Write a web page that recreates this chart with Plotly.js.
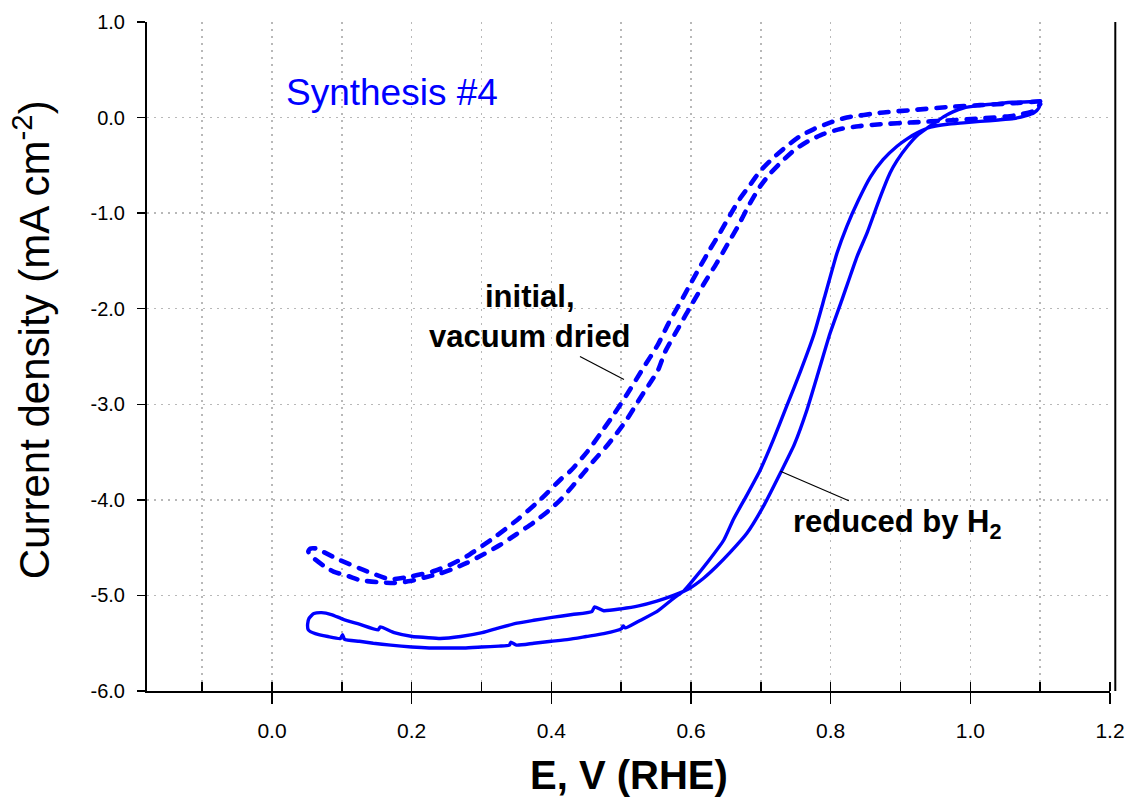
<!DOCTYPE html>
<html>
<head>
<meta charset="utf-8">
<script src="https://cdn.plot.ly/plotly-3.0.1.min.js"></script>
<style>
html,body{margin:0;padding:0;background:#fff;}
#chart{width:1128px;height:809px;}
#chart .scatterlayer path.js-line{stroke-linecap:round;stroke-linejoin:round;}
</style>
</head>
<body>
<div id="chart"></div>
<script>
// ---- Data (E vs RHE in V, current density in mA cm-2) ----
// "reduced by H2" (solid) – one closed CV loop
const reducedE = [1.100,1.085,1.060,1.038,1.010,0.990,0.975,0.962,0.950,0.938,0.925,0.910,0.895,0.885,0.870,0.852,0.838,0.826,0.816,0.799,0.783,0.766,0.748,0.728,0.705,0.680,0.656,0.636,0.618,0.597,0.575,0.551,0.525,0.500,0.475,0.462,0.458,0.430,0.401,0.375,0.351,0.325,0.301,0.270,0.241,0.220,0.201,0.175,0.155,0.152,0.125,0.102,0.085,0.071,0.060,0.053,0.051,0.052,
  0.062,0.080,0.098,0.101,0.104,0.125,0.145,0.170,0.200,0.225,0.250,0.275,0.300,0.325,0.340,0.342,0.350,0.375,0.400,0.425,0.450,0.475,0.500,0.503,0.506,0.525,0.551,0.575,0.590,0.603,0.625,0.647,0.661,0.680,0.699,0.718,0.737,0.757,0.776,0.792,0.809,0.823,0.840,0.857,0.875,0.895,0.910,0.924,0.943,0.967,0.990,1.014,1.040,1.062,1.080,1.091,1.098,1.100];
const reducedJ = [0.17,0.165,0.16,0.145,0.125,0.10,0.06,0.01,-0.05,-0.11,-0.18,-0.30,-0.45,-0.58,-0.85,-1.21,-1.45,-1.70,-1.91,-2.26,-2.65,-3.06,-3.42,-3.72,-4.05,-4.35,-4.55,-4.70,-4.82,-4.93,-5.00,-5.06,-5.11,-5.14,-5.16,-5.12,-5.17,-5.20,-5.23,-5.26,-5.29,-5.34,-5.39,-5.43,-5.45,-5.44,-5.43,-5.39,-5.33,-5.36,-5.30,-5.25,-5.20,-5.18,-5.19,-5.24,-5.30,-5.36,
  -5.40,-5.43,-5.45,-5.41,-5.46,-5.48,-5.50,-5.52,-5.54,-5.55,-5.55,-5.55,-5.54,-5.53,-5.52,-5.49,-5.52,-5.50,-5.48,-5.46,-5.43,-5.40,-5.35,-5.32,-5.34,-5.27,-5.17,-5.03,-4.95,-4.84,-4.64,-4.42,-4.20,-3.95,-3.69,-3.37,-3.02,-2.65,-2.27,-1.86,-1.42,-1.14,-0.86,-0.62,-0.44,-0.30,-0.22,-0.16,-0.10,-0.07,-0.055,-0.04,-0.025,-0.01,0.02,0.05,0.10,0.17];

// "initial, vacuum dried" (dashed) – one closed CV loop
const initialE = [1.100,1.062,1.014,0.967,0.919,0.871,0.823,0.800,0.776,0.755,0.737,0.718,0.699,0.685,0.670,0.656,0.642,0.627,0.613,0.600,0.585,0.568,0.553,0.530,0.508,0.490,0.470,0.451,0.427,0.417,0.384,0.351,0.317,0.279,0.255,0.230,0.200,0.169,0.130,0.097,0.075,0.064,0.055,0.052,
  0.055,0.074,0.088,0.110,0.126,0.150,0.175,0.198,0.220,0.241,0.260,0.279,0.303,0.327,0.350,0.374,0.395,0.413,0.430,0.446,0.462,0.479,0.494,0.508,0.520,0.532,0.543,0.553,0.563,0.582,0.603,0.620,0.637,0.652,0.667,0.682,0.699,0.714,0.730,0.748,0.767,0.790,0.814,0.840,0.871,0.919,0.967,1.014,1.062,1.091,1.100];
const initialJ = [0.17,0.15,0.13,0.11,0.08,0.05,0.00,-0.05,-0.12,-0.20,-0.30,-0.42,-0.56,-0.70,-0.85,-1.02,-1.20,-1.38,-1.56,-1.73,-1.93,-2.15,-2.37,-2.64,-2.90,-3.10,-3.31,-3.50,-3.70,-3.76,-4.00,-4.21,-4.40,-4.59,-4.68,-4.75,-4.80,-4.83,-4.73,-4.63,-4.55,-4.51,-4.51,-4.54,
  -4.58,-4.69,-4.75,-4.80,-4.84,-4.86,-4.87,-4.85,-4.81,-4.77,-4.72,-4.66,-4.57,-4.47,-4.36,-4.24,-4.12,-4.00,-3.86,-3.72,-3.58,-3.44,-3.30,-3.16,-3.02,-2.88,-2.76,-2.64,-2.45,-2.20,-1.93,-1.72,-1.52,-1.33,-1.14,-0.93,-0.72,-0.58,-0.46,-0.34,-0.25,-0.17,-0.12,-0.09,-0.07,-0.05,-0.03,-0.01,0.02,0.07,0.14];

// tick labels
const xTickVals = [0.0,0.2,0.4,0.6,0.8,1.0,1.2];
const xTickText = ["0.0","0.2","0.4","0.6","0.8","1.0","1.2"];
const yTickVals = [1,0,-1,-2,-3,-4,-5,-6];
const yTickText = ["1.0","0.0","-1.0","-2.0","-3.0","-4.0","-5.0","-6.0"];

const FONT = "Liberation Sans, Arial, Helvetica, sans-serif";
const BLUE = "#0000ff";
const GRID = "#b8b8b8";

const traces = [
  {x: initialE, y: initialJ, type: "scatter", mode: "lines", name: "initial, vacuum dried",
   line: {color: BLUE, width: 4.6, dash: "9px,10px", shape: "spline", smoothing: 0.6}, hoverinfo: "x+y"},
  {x: reducedE, y: reducedJ, type: "scatter", mode: "lines", name: "reduced by H2",
   line: {color: BLUE, width: 3.4, shape: "spline", smoothing: 0.5}, hoverinfo: "x+y"}
];

const layout = {
  width: 1128, height: 809,
  margin: {l: 147, r: 18, t: 22, b: 118},
  paper_bgcolor: "#fff", plot_bgcolor: "#fff",
  showlegend: false,
  font: {family: FONT, color: "#000"},
  xaxis: {
    range: [-0.179, 1.2], tickmode: "array", tickvals: xTickVals, ticktext: xTickText,
    ticks: "outside", ticklen: 11, tickwidth: 1.5, tickcolor: "#000", ticklabelstandoff: 9,
    showline: true, linecolor: "#000", linewidth: 2, zeroline: false,
    showgrid: true, gridcolor: GRID, griddash: "2px,5px", gridwidth: 1.5,
    tickfont: {family: FONT, size: 21, color: "#000"},
    minor: {dtick: 0.1, tick0: 0, ticks: "inside", ticklen: 9, tickwidth: 1.5, tickcolor: "#000",
            showgrid: true, gridcolor: GRID, griddash: "2px,5px", gridwidth: 1.5}
  },
  yaxis: {
    range: [-6, 1], tickmode: "array", tickvals: yTickVals, ticktext: yTickText,
    ticks: "outside", ticklen: 8, tickwidth: 1.5, tickcolor: "#000", ticklabelstandoff: 8,
    showline: true, linecolor: "#000", linewidth: 2, zeroline: false,
    showgrid: true, gridcolor: GRID, griddash: "2px,5px", gridwidth: 1.5,
    tickfont: {family: FONT, size: 20, color: "#000"}
  },
  shapes: [
    {type: "line", xref: "paper", yref: "paper", x0: 1.0055, x1: 1.0055, y0: 0, y1: 1,
     line: {color: "#000", width: 2}},
    {type: "line", xref: "x", yref: "y", x0: 0.441, y0: -2.50, x1: 0.504, y1: -2.74,
     line: {color: "#000", width: 1.2}},
    {type: "line", xref: "x", yref: "y", x0: 0.728, y0: -3.70, x1: 0.826, y1: -4.01,
     line: {color: "#000", width: 1.2}}
  ],
  annotations: [
    {text: "Synthesis #4", xref: "x", yref: "y", x: 0.172, y: 0.26, showarrow: false,
     xanchor: "center", yanchor: "middle", font: {family: FONT, size: 37, color: BLUE}},
    {text: "<b>initial,</b><br><b>vacuum dried</b>", xref: "x", yref: "y", x: 0.370, y: -2.08,
     showarrow: false, xanchor: "center", yanchor: "middle", align: "center",
     font: {family: FONT, size: 31, color: "#000"}},
    {text: "<b>reduced by H<sub>2</sub></b>", xref: "x", yref: "y", x: 0.895, y: -4.25,
     showarrow: false, xanchor: "center", yanchor: "middle",
     font: {family: FONT, size: 31, color: "#000"}},
    {text: "Current density (mA cm<sup>-2</sup>)", xref: "paper", yref: "paper",
     x: -0.12, y: 0.525, textangle: -90, showarrow: false, xanchor: "center", yanchor: "middle",
     font: {family: FONT, size: 42, color: "#000"}},
    {text: "<b>E, V (RHE)</b>", xref: "paper", yref: "paper", x: 0.5, y: -0.1256,
     showarrow: false, xanchor: "center", yanchor: "middle",
     font: {family: FONT, size: 40, color: "#000"}}
  ]
};

Plotly.newPlot("chart", traces, layout, {displayModeBar: false, staticPlot: true});
</script>
</body>
</html>
